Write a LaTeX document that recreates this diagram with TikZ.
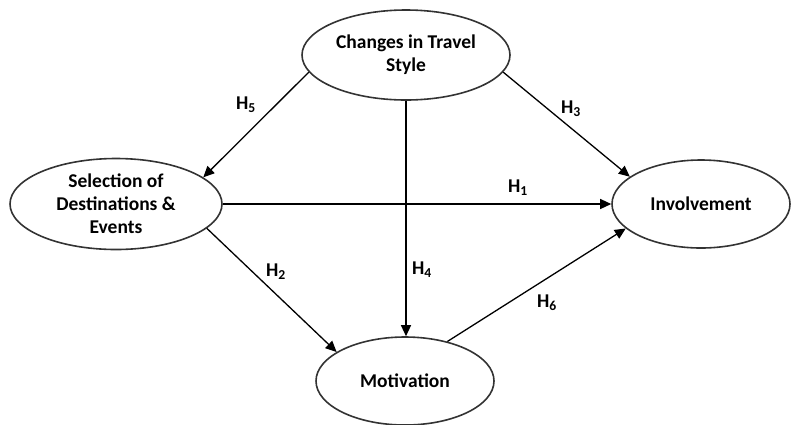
\documentclass[tikz,border=0pt]{standalone}
\usepackage{fontspec}
\setmainfont{Carlito}
\usetikzlibrary{shapes.geometric,arrows.meta}
\tikzset{
  construct/.style={ellipse, draw=black!80, line width=1.6pt, inner sep=0pt, align=center, font=\bfseries\fontsize{19.5}{23}\selectfont},
  link/.style={line width=1.3pt, -{Triangle[length=11pt,width=10pt]}},
  hyp/.style={font=\bfseries\fontsize{19.5}{22}\selectfont, inner sep=0pt}
}
\begin{document}
\begin{tikzpicture}[x=1pt,y=-1pt]
\useasboundingbox (0,0) rectangle (792,424);
\node[construct, minimum width=208pt, minimum height=90pt] (cts) at (406,55) {Changes in Travel\\Style};
\node[construct, minimum width=212pt, minimum height=91pt] (sel) at (116,204) {Selection of\\Destinations \&\\Events};
\node[construct, minimum width=178pt, minimum height=88pt] (inv) at (701,204) {Involvement};
\node[construct, minimum width=178pt, minimum height=88pt] (mot) at (405,381) {Motivation};

\draw[link] (cts.190) -- (sel.17);
\draw[link] (cts.350) -- (inv.159);
\draw[link] (cts.south) -- (cts.south |- mot.north);
\draw[link] (sel.east) -- (inv.west);
\draw[link] (sel.-15) -- (mot.157);
\draw[link] (mot.43) -- (inv.198);

\node[hyp] (h5) at (246,105) {H\textsubscript{5}};
\node[hyp] (h3) at (571,109) {H\textsubscript{3}};
\node[hyp] (h1) at (518,188) {H\textsubscript{1}};
\node[hyp] (h2) at (276,272) {H\textsubscript{2}};
\node[hyp] (h4) at (422,270) {H\textsubscript{4}};
\node[hyp] (h6) at (547,303) {H\textsubscript{6}};
\end{tikzpicture}
\end{document}
